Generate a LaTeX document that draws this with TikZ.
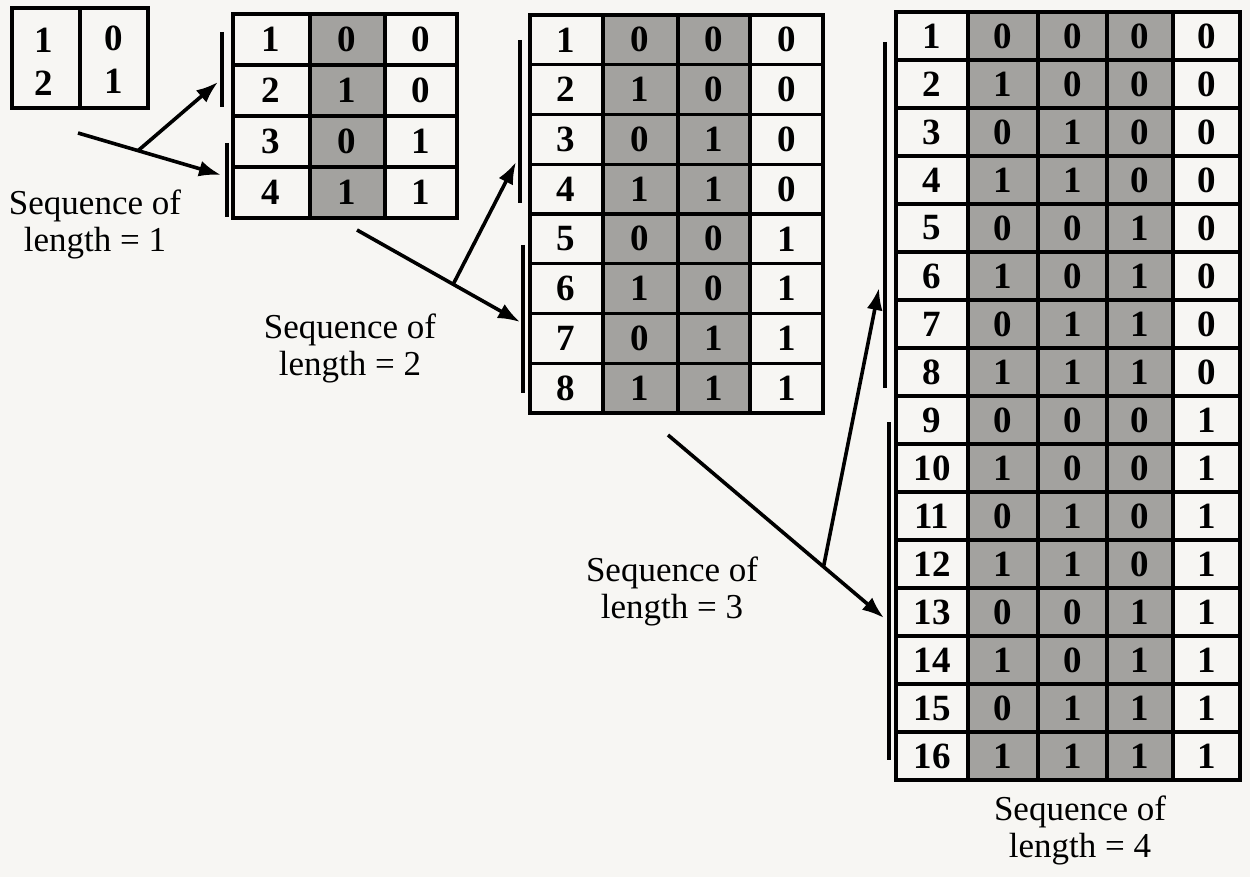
\documentclass[tikz,border=0pt]{standalone}
\usepackage{fontspec}
\setmainfont{Liberation Serif}
\usetikzlibrary{arrows.meta,calc}
\definecolor{paper}{RGB}{247,246,243}
\definecolor{cellgrey}{RGB}{163,162,159}
\begin{document}
\begin{tikzpicture}[x=1pt,y=-1pt,
  cellline/.style={line width=3.2pt,line cap=rect},
  blockline/.style={line width=4.6pt,line cap=rect},
  bar/.style={line width=3.8pt},
  flow/.style={line width=3.6pt,-{Latex[length=22pt,width=16pt]}},
  digit/.style={font=\fontsize{37}{37}\selectfont\bfseries,inner sep=0pt},
  caption/.style={font=\fontsize{35}{37}\selectfont,align=center,inner sep=0pt},
  shade/.style={fill=cellgrey}]
\useasboundingbox (0,0) rectangle (1250,877);
\fill[paper] (0,0) rectangle (1250,877);

% ---------- table 1 ----------
\draw[cellline] (12,8) rectangle (148,108);
\draw[cellline] (80,8) -- (80,108);
\node[digit] (t1a) at (44,40) {1};
\node[digit] (t1b) at (44,83) {2};
\node[digit] (t1c) at (114,38) {0};
\node[digit] (t1d) at (114,81) {1};

% ---------- table 2 ----------
\fill[shade] (310,14) rectangle (385,218);
\foreach \r in {0,...,4} \draw[cellline] (233,{14+51*\r}) -- (457,{14+51*\r});
\foreach \x in {233,310,385,457} \draw[cellline] (\x,14) -- (\x,218);
\draw[blockline] (310,14) rectangle (385,218);
\foreach \r in {1,...,4}{
  \pgfmathtruncatemacro\ba{mod(\r-1,2)}
  \pgfmathtruncatemacro\bb{mod(div(\r-1,2),2)}
  \node[digit] (t2i\r) at (271,{14+51*(\r-0.5)}) {\r};
  \node[digit] (t2a\r) at (347,{14+51*(\r-0.5)}) {\ba};
  \node[digit] (t2b\r) at (421,{14+51*(\r-0.5)}) {\bb};
}

% ---------- table 3 ----------
\fill[shade] (603,15) rectangle (750,413);
\foreach \r in {0,...,8} \draw[cellline] (530,{15+49.75*\r}) -- (823,{15+49.75*\r});
\foreach \x in {530,603,678,750,823} \draw[cellline] (\x,15) -- (\x,413);
\draw[blockline] (603,15) rectangle (750,413);
\foreach \r in {1,...,8}{
  \pgfmathtruncatemacro\ba{mod(\r-1,2)}
  \pgfmathtruncatemacro\bb{mod(div(\r-1,2),2)}
  \pgfmathtruncatemacro\bc{mod(div(\r-1,4),2)}
  \node[digit] (t3i\r) at (566,{15+49.75*(\r-0.5)}) {\r};
  \node[digit] (t3a\r) at (640,{15+49.75*(\r-0.5)}) {\ba};
  \node[digit] (t3b\r) at (714,{15+49.75*(\r-0.5)}) {\bb};
  \node[digit] (t3c\r) at (787,{15+49.75*(\r-0.5)}) {\bc};
}

% ---------- table 4 ----------
\fill[shade] (968,12) rectangle (1173,780);
\foreach \r in {0,...,16} \draw[cellline] (896,{12+48*\r}) -- (1240,{12+48*\r});
\foreach \x in {896,968,1038,1107,1173,1240} \draw[cellline] (\x,12) -- (\x,780);
\draw[blockline] (968,12) rectangle (1173,780);
\foreach \r in {1,...,16}{
  \pgfmathtruncatemacro\ba{mod(\r-1,2)}
  \pgfmathtruncatemacro\bb{mod(div(\r-1,2),2)}
  \pgfmathtruncatemacro\bc{mod(div(\r-1,4),2)}
  \pgfmathtruncatemacro\bd{mod(div(\r-1,8),2)}
  \node[digit] (t4i\r) at (932,{12+48*(\r-0.5)}) {\r};
  \node[digit] (t4a\r) at (1003,{12+48*(\r-0.5)}) {\ba};
  \node[digit] (t4b\r) at (1073,{12+48*(\r-0.5)}) {\bb};
  \node[digit] (t4c\r) at (1140,{12+48*(\r-0.5)}) {\bc};
  \node[digit] (t4d\r) at (1207,{12+48*(\r-0.5)}) {\bd};
}

% ---------- bars ----------
\coordinate (b2u1) at (222,32);  \coordinate (b2u2) at (222,107);
\coordinate (b2l1) at (227,143); \coordinate (b2l2) at (227,217);
\coordinate (b3u1) at (520,40);  \coordinate (b3u2) at (520,203);
\coordinate (b3l1) at (523,245); \coordinate (b3l2) at (523,393);
\coordinate (b4u1) at (885,42);  \coordinate (b4u2) at (885,388);
\coordinate (b4l1) at (889,422); \coordinate (b4l2) at (889,760);
\foreach \b in {b2u,b2l,b3u,b3l,b4u,b4l} \draw[bar] (\b1) -- (\b2);

% ---------- arrows ----------
\coordinate (a1s) at (78,133);  \coordinate (a1e) at (221,175);
\coordinate (a1t) at (218,82);
\coordinate (a1m) at ($(a1s)!0.42!(a1e)$);
\draw[flow] (a1s) -- (a1e);
\draw[flow] (a1m) -- (a1t);

\coordinate (a2s) at (357,230); \coordinate (a2e) at (520,322);
\coordinate (a2t) at (516,162);
\coordinate (a2m) at ($(a2s)!0.59!(a2e)$);
\draw[flow] (a2s) -- (a2e);
\draw[flow] (a2m) -- (a2t);

\coordinate (a3s) at (668,435); \coordinate (a3e) at (884,618);
\coordinate (a3t) at (879,288);
\coordinate (a3m) at ($(a3s)!0.72!(a3e)$);
\draw[flow] (a3s) -- (a3e);
\draw[flow] (a3m) -- (a3t);

% ---------- captions ----------
\node[caption] (c1) at (95,224) {Sequence of\\length = 1};
\node[caption] (c2) at (350,348) {Sequence of\\length = 2};
\node[caption] (c3) at (672,591) {Sequence of\\length = 3};
\node[caption] (c4) at (1080,830) {Sequence of\\length = 4};
\end{tikzpicture}
\end{document}
